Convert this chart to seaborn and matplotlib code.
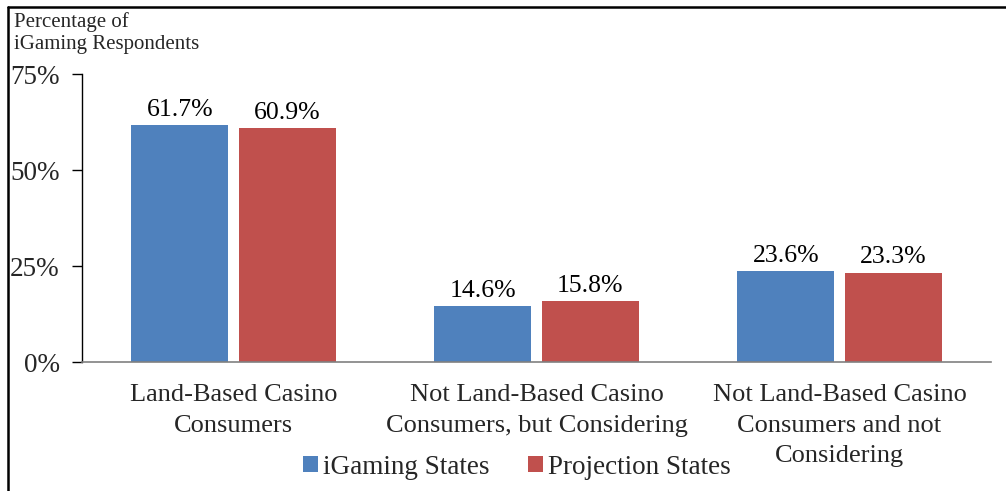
import matplotlib
matplotlib.use("Agg")
import matplotlib.pyplot as plt
from matplotlib.patches import Patch
from matplotlib.lines import Line2D
import seaborn as sns
import pandas as pd

categories = [
    "Land-Based Casino\nConsumers",
    "Not Land-Based Casino\nConsumers, but Considering",
    "Not Land-Based Casino\nConsumers and not\nConsidering",
]
series_names = ["iGaming States", "Projection States"]
igaming = [61.7, 14.6, 23.6]
projection = [60.9, 15.8, 23.3]
colors = ["#4F81BD", "#C0504D"]
yticks = [0, 25, 50, 75]

df = pd.DataFrame({
    "category": categories * 2,
    "group": [series_names[0]] * 3 + [series_names[1]] * 3,
    "value": igaming + projection,
})

sns.set_theme(style="white")
plt.rcParams["font.family"] = ["Liberation Serif", "DejaVu Serif"]

fig = plt.figure(figsize=(10.06, 4.91), dpi=100)
ax = fig.add_axes([82 / 1006, 1 - 362 / 491, (991 - 82) / 1006, (362 - 74) / 491])

sns.barplot(data=df, x="category", y="value", hue="group", palette=colors,
            width=0.71, gap=0.095, saturation=1, ax=ax, legend=False,
            edgecolor="none")

for cont in ax.containers:
    ax.bar_label(cont, labels=[f"{v:.1f}%" for v in cont.datavalues],
                 padding=3, fontsize=18.5, color="black")

ax.set_ylim(0, 75)
ax.set_yticks(yticks)
ax.set_yticklabels([f"{t}%" for t in yticks], fontsize=19.5)
ax.set_xlim(-0.5, 2.5)
ax.set_xlabel("")
ax.set_ylabel("")
ax.tick_params(axis="x", length=0, pad=16, labelsize=19)
ax.tick_params(axis="y", length=7, width=1, color="black", pad=9, direction="out", left=True)
for lbl in ax.get_xticklabels():
    lbl.set_linespacing(1.5)

ax.spines["top"].set_visible(False)
ax.spines["right"].set_visible(False)
ax.spines["left"].set_color("black")
ax.spines["left"].set_linewidth(1)
ax.spines["bottom"].set_color("#808080")
ax.spines["bottom"].set_linewidth(1.2)

fig.text(14 / 1006, 1 - 12 / 491, "Percentage of\niGaming Respondents",
         fontsize=15, ha="left", va="top", linespacing=1.2)

handles = [Patch(facecolor=c, edgecolor="none") for c in colors]
fig.legend(handles, series_names, loc="center", bbox_to_anchor=(517 / 1006, 1 - 467 / 491),
           ncol=2, frameon=False, fontsize=19.5, handlelength=0.55, handleheight=0.55,
           handletextpad=0.2, columnspacing=1.4, borderpad=0)

# outer frame along top and left edges
fig.add_artist(Line2D([8 / 1006, 1], [1 - 7 / 491, 1 - 7 / 491], transform=fig.transFigure,
                      color="black", linewidth=1.8))
fig.add_artist(Line2D([8 / 1006, 8 / 1006], [0, 1 - 7 / 491], transform=fig.transFigure,
                      color="black", linewidth=1.8))

fig.savefig("out.png", dpi=100)
